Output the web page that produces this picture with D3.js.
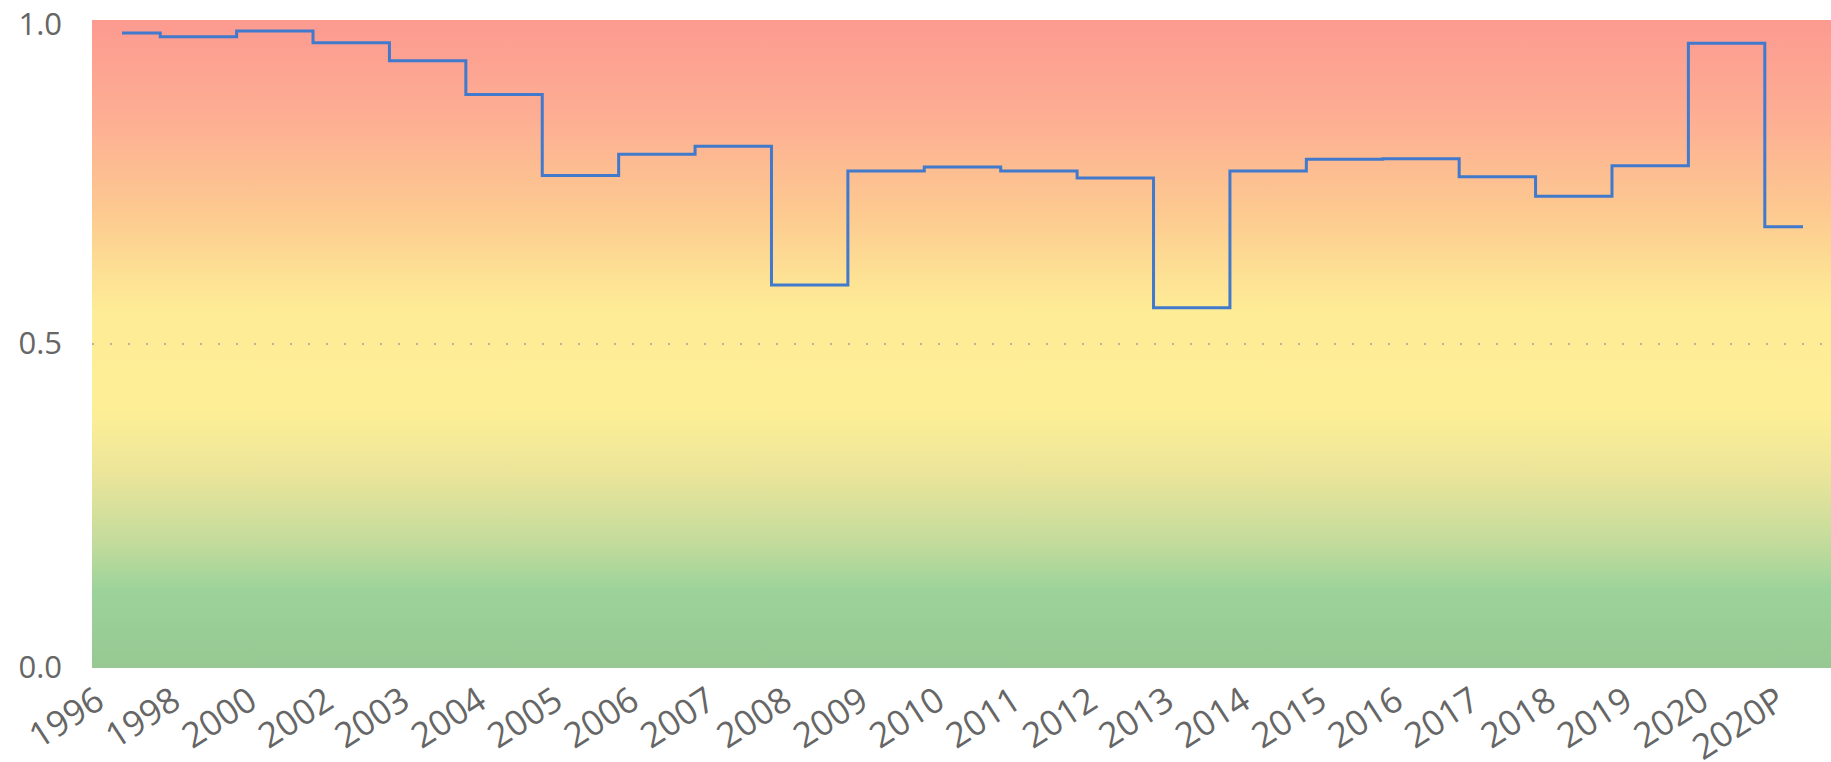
<!DOCTYPE html>
<html>
<head>
<meta charset="utf-8">
<script src="https://cdn.jsdelivr.net/npm/d3@7"></script>
<style>
  body { margin: 0; background: #fff; }
  text { font-family: "Open Sans", "Noto Sans", sans-serif; }
</style>
</head>
<body>
<div id="chart"></div>
<script>
var categories = ['1996','1998','2000','2002','2003','2004','2005','2006','2007','2008','2009','2010',
  '2011','2012','2013','2014','2015','2016','2017','2018','2019','2020','2020P'];
var values = [0.980,0.974,0.983,0.965,0.937,0.885,0.760,0.793,0.805,0.591,0.767,0.773,
  0.767,0.756,0.556,0.767,0.785,0.786,0.758,0.728,0.775,0.964,0.681];
var yTicks = [0, 0.5, 1];

// background colour bands, top of plot (0) to bottom (1)
var bandStops = [
  [0, '#fc9a90'], [0.15, '#fdae93'], [0.3, '#fdca90'], [0.39, '#fde094'], [0.45, '#feec96'],
  [0.6, '#feef96'], [0.7, '#ebe59a'], [0.8, '#c6dc9c'], [0.88, '#9cd39a'], [1, '#97c893']
];

(function() {
  var width = 1831, height = 762;
  var left = 92, right = 1831, top = 20, bottom = 668;

  var svg = d3.select("#chart")
    .append("svg")
    .attr("width", width)
    .attr("height", height);

  var x = d3.scalePoint()
    .domain(categories)
    .range([122, 1803]);

  var y = d3.scaleLinear()
    .domain([0, 1])
    .range([bottom, top]);

  var grad = svg.append("defs").append("linearGradient")
    .attr("id", "bg")
    .attr("gradientUnits", "userSpaceOnUse")
    .attr("x1", 0).attr("x2", 0)
    .attr("y1", top).attr("y2", bottom);

  grad.selectAll("stop")
    .data(bandStops)
    .enter().append("stop")
    .attr("offset", function(d) { return d[0]; })
    .attr("stop-color", function(d) { return d[1]; });

  svg.append("rect")
    .attr("x", left)
    .attr("y", top)
    .attr("width", right - left)
    .attr("height", bottom - top)
    .attr("fill", "url(#bg)");

  // dotted gridline at 0.5
  svg.selectAll(".grid")
    .data(yTicks.filter(function(d) { return d > 0 && d < 1; }))
    .enter().append("line")
    .attr("x1", left)
    .attr("x2", right)
    .attr("y1", function(d) { return y(d); })
    .attr("y2", function(d) { return y(d); })
    .attr("stroke", "#b8b3a0")
    .attr("stroke-width", 2)
    .attr("stroke-dasharray", "2,16");

  var line = d3.line()
    .curve(d3.curveStep)
    .x(function(d, i) { return x(categories[i]); })
    .y(function(d) { return y(d); });

  svg.append("path")
    .datum(values)
    .attr("d", line)
    .attr("fill", "none")
    .attr("stroke", "#4179cc")
    .attr("stroke-width", 3);

  var yAxis = svg.append("g")
    .attr("transform", "translate(" + left + ",0)")
    .call(d3.axisLeft(y).tickValues(yTicks).tickFormat(d3.format(".1f")).tickSize(0).tickPadding(30));
  yAxis.select(".domain").remove();
  yAxis.selectAll("text")
    .attr("font-size", 31)
    .attr("fill", "#666")
    .attr("font-family", null)
    .attr("y", function(d) { return d === 1 ? 5 : 0; });

  var xAxis = svg.append("g")
    .attr("transform", "translate(0," + bottom + ")")
    .call(d3.axisBottom(x).tickSize(0));
  xAxis.select(".domain").remove();
  xAxis.selectAll("text")
    .attr("font-size", 35)
    .attr("fill", "#666")
    .attr("font-family", null)
    .attr("x", 0)
    .attr("y", 0)
    .attr("dy", 0)
    .attr("text-anchor", "end")
    .attr("transform", "translate(-16,38) rotate(-33)");
})();
</script>
</body>
</html>
